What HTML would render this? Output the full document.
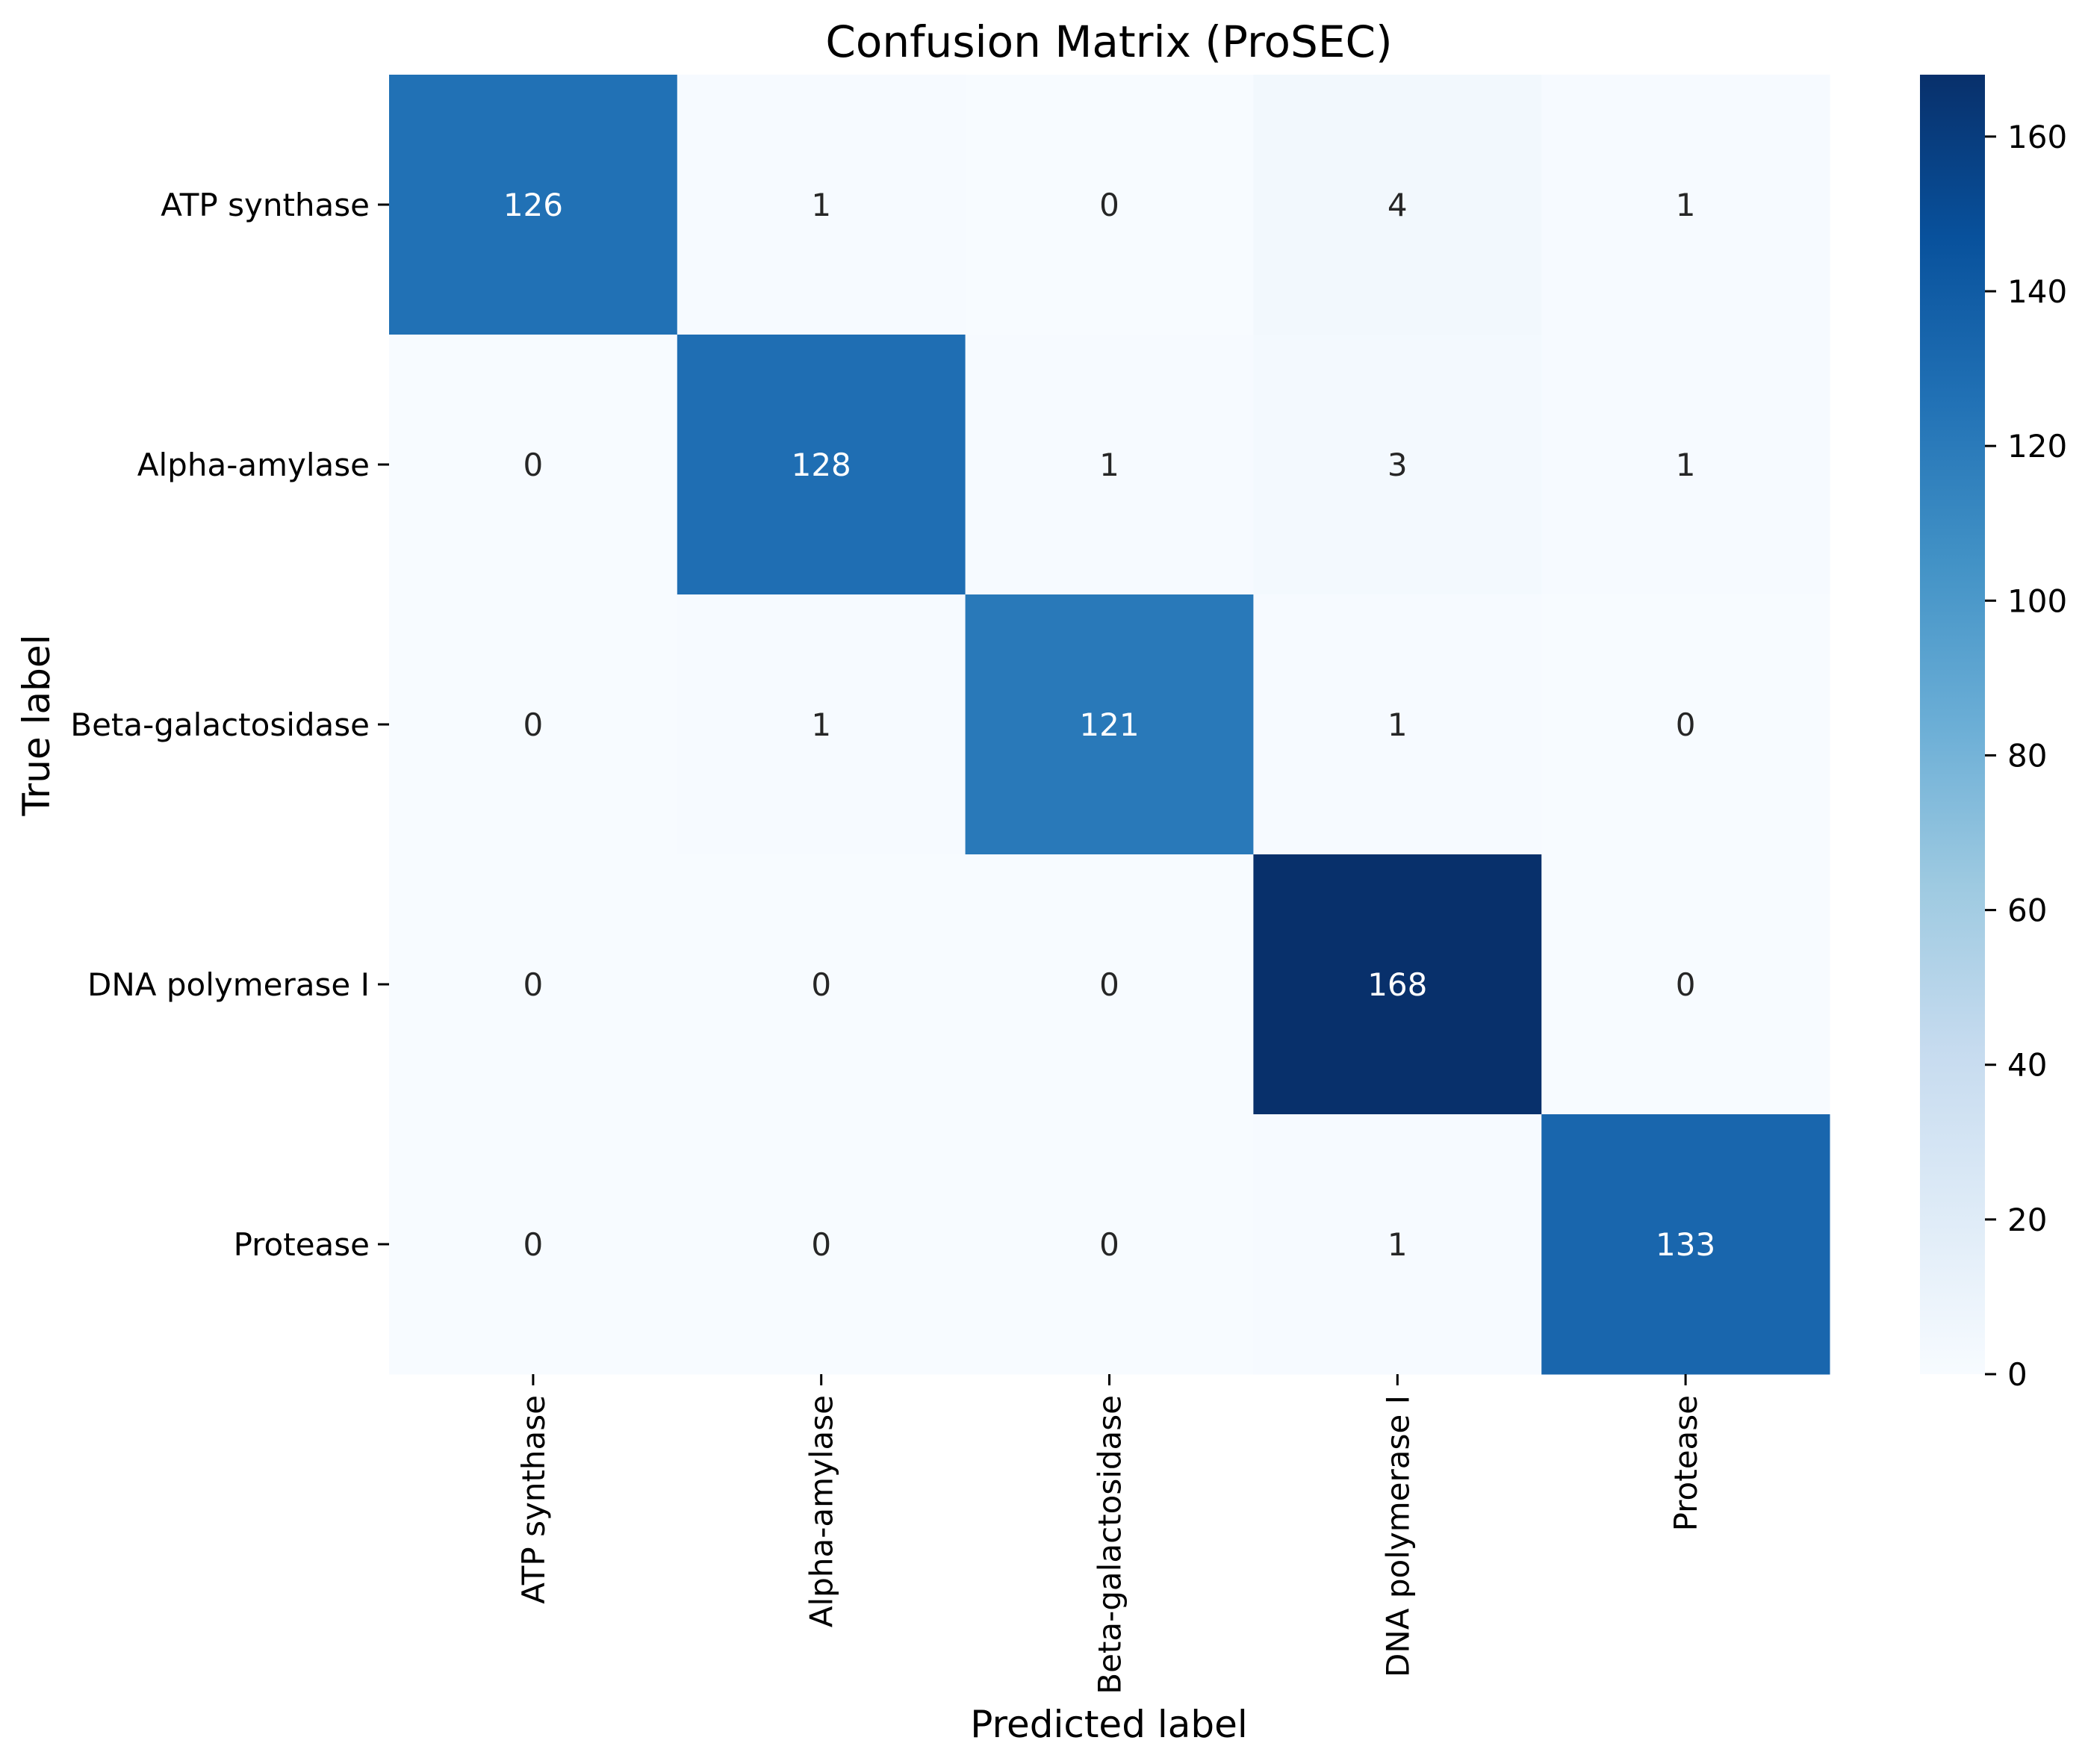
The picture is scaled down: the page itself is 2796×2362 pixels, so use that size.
<!DOCTYPE html>
<html><head><meta charset="utf-8">
<style>
html,body{margin:0;padding:0;background:#fff;}
svg{display:block;font-family:"DejaVu Sans","Liberation Sans",sans-serif;}
</style></head>
<body>
<svg id="chart" width="2796" height="2362" viewBox="0 0 2796 2362" xmlns="http://www.w3.org/2000/svg">
<defs>
<linearGradient id="cbgrad" x1="0" y1="1" x2="0" y2="0">
<stop offset="0" stop-color="#f7fbff"/><stop offset="0.125" stop-color="#deebf7"/><stop offset="0.25" stop-color="#c6dbef"/><stop offset="0.375" stop-color="#9ecae1"/><stop offset="0.5" stop-color="#6baed6"/><stop offset="0.625" stop-color="#4292c6"/><stop offset="0.75" stop-color="#2171b5"/><stop offset="0.875" stop-color="#08519c"/><stop offset="1" stop-color="#08306b"/>
</linearGradient>
</defs>
<text x="1485" y="76" font-size="58" text-anchor="middle">Confusion Matrix (ProSEC)</text>
<g id="cells"></g>
<g id="xticks"></g>
<g id="yticks"></g>
<text x="1485" y="2326" font-size="50" text-anchor="middle">Predicted label</text>
<text transform="translate(66,971) rotate(-90)" font-size="50" text-anchor="middle">True label</text>
<rect x="2571" y="100" width="87" height="1740" fill="url(#cbgrad)"/>
<g id="cbticks"></g>
</svg>
<script>
const classes = ["ATP synthase","Alpha-amylase","Beta-galactosidase","DNA polymerase I","Protease"];
const row0 = [126,1,0,4,1];
const row1 = [0,128,1,3,1];
const row2 = [0,1,121,1,0];
const row3 = [0,0,0,168,0];
const row4 = [0,0,0,1,133];
const matrix = [row0,row1,row2,row3,row4];
const cbTicks = [0,20,40,60,80,100,120,140,160];
const vmin = 0, vmax = 168;

const NS = "http://www.w3.org/2000/svg";
const L=521, R=2450, T=100, B=1840;
const n = classes.length;
const cw=(R-L)/n, ch=(B-T)/n;
const xPos = i => L + i*cw;
const yPos = i => T + i*ch;
const cbY = v => 1840 - (v-vmin)/(vmax-vmin)*1740;

const stops=[[247,251,255],[222,235,247],[198,219,239],[158,202,225],[107,174,214],[66,146,198],[33,113,181],[8,81,156],[8,48,107]];
function blues(t){
  t=Math.max(0,Math.min(1,t));
  const p=t*8, i=Math.min(7,Math.floor(p)), f=p-i;
  const a=stops[i], b=stops[i+1];
  return [0,1,2].map(k=>Math.round(a[k]+(b[k]-a[k])*f));
}
function mk(tag, attrs, parent){
  const e=document.createElementNS(NS,tag);
  for(const k in attrs) e.setAttribute(k,attrs[k]);
  parent.appendChild(e); return e;
}
const cells=document.getElementById('cells');
matrix.forEach((row,r)=>{
  row.forEach((v,c)=>{
    const col=blues((v-vmin)/(vmax-vmin));
    const rect=mk('rect',{x:xPos(c),y:yPos(r),width:cw+0.5,height:ch+0.5,fill:`rgb(${col})`},cells);
    
    
    const lum=(0.299*col[0]+0.587*col[1]+0.114*col[2])/255;
    const t=mk('text',{x:xPos(c)+cw/2,y:yPos(r)+ch/2+15,'font-size':42,'text-anchor':'middle',fill:lum<0.5?'#fff':'#262626'},cells);
    t.textContent=v;
    
    
  });
});
const xt=document.getElementById('xticks'), yt=document.getElementById('yticks');
classes.forEach((name,i)=>{
  const cx=xPos(i)+cw/2;
  mk('line',{x1:cx,y1:B,x2:cx,y2:B+15,stroke:'#000','stroke-width':3},xt);
  const tx=mk('text',{transform:`translate(${cx+15},${B+28}) rotate(-90)`,'font-size':42,'text-anchor':'end'},xt);
  tx.textContent=name;
  
  
  const cy=yPos(i)+ch/2;
  mk('line',{x1:L-15,y1:cy,x2:L,y2:cy,stroke:'#000','stroke-width':3},yt);
  const ty=mk('text',{x:L-26,y:cy+15,'font-size':42,'text-anchor':'end'},yt);
  ty.textContent=name;
  
  
});
const cbt=document.getElementById('cbticks');
cbTicks.forEach(v=>{
  const y=cbY(v);
  mk('line',{x1:2658,y1:y,x2:2673,y2:y,stroke:'#000','stroke-width':3},cbt);
  const t=mk('text',{x:2688,y:y+15,'font-size':42},cbt);
  t.textContent=v;
  
  
});
</script>
</body></html>
